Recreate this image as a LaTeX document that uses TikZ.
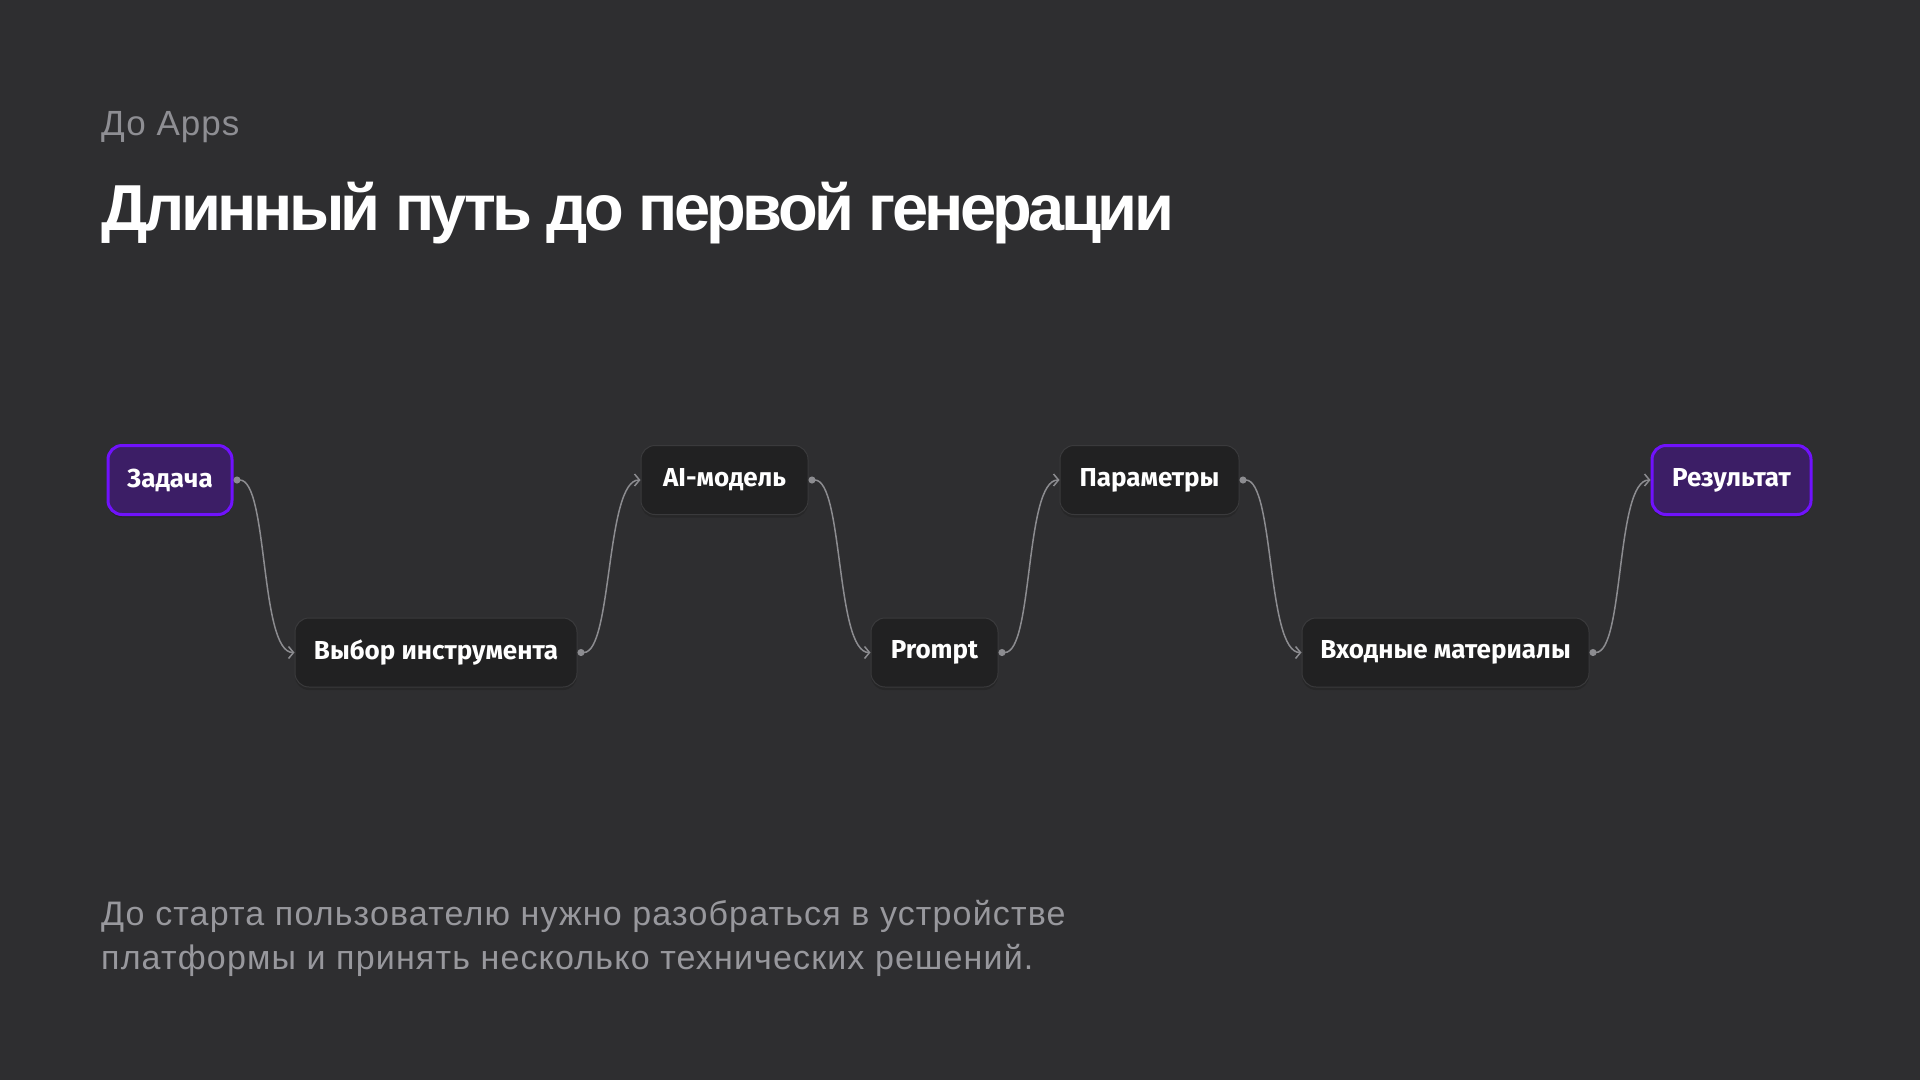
\documentclass[tikz,border=0pt]{standalone}
\usepackage{fontspec}
\setmainfont{Liberation Sans}[LetterSpace=3]
\newfontfamily\titlefont{Liberation Sans}[LetterSpace=-5.6]
\newfontfamily\notefont{Liberation Sans}[LetterSpace=3.4]
\newfontfamily\boxfont{Fira Sans}
\usepackage{xcolor}
\usetikzlibrary{arrows.meta,calc,positioning,shadows}

\definecolor{bgcol}{RGB}{46,46,48}
\definecolor{boxfill}{RGB}{33,33,34}
\definecolor{boxline}{RGB}{58,58,60}
\definecolor{endfill}{RGB}{60,30,102}
\definecolor{endline}{RGB}{112,18,252}
\definecolor{linkcol}{RGB}{140,140,144}
\definecolor{subcol}{RGB}{142,142,147}
\definecolor{notecol}{RGB}{152,152,157}

\begin{document}
\begin{tikzpicture}[
		x=1pt, y=-1pt,
		stepbox/.style={rectangle, rounded corners=14pt, draw=boxline, line width=1pt, fill=boxfill,
			minimum height=69pt, inner xsep=0pt, text=white,
			font=\boxfont\bfseries\fontsize{26}{30}\selectfont,
			drop shadow={shadow xshift=0pt, shadow yshift=-3pt, opacity=0.15, fill=black}},
		endbox/.style={stepbox, draw=endline, line width=3pt, fill=endfill},
		link/.style={draw=linkcol, line width=1.5pt, {Circle[length=7pt]}-{Straight Barb[length=5pt,width=12pt]}},
		plain/.style={anchor=base west, inner sep=0pt}
		]

		% fond
		\fill[bgcol] (0,0) rectangle (1920,1080);
		\useasboundingbox (0,0) rectangle (1920,1080);

		% --- Textes ---
		\node[plain, text=subcol, font=\fontsize{35}{40}\selectfont] (sub) at (101,135) {До Apps};
		\node[plain, text=white, font=\titlefont\bfseries\fontsize{65}{74}\selectfont] (title) at (101,230) {Длинный путь до первой генерации};
		% (base = ligne du bas)
		\node[plain, text=notecol, align=left, font=\notefont\fontsize{34}{44}\selectfont] (note) at (101,969)
			{До старта пользователю нужно разобраться в устройстве\\платформы и принять несколько технических решений.};

		% --- Etapes ---
		\node[endbox, minimum width=124pt] (zadacha) at (170,480) {Задача};
		\node[stepbox, minimum width=282pt] (vybor) at (436,652.5) {Выбор инструмента};
		\node[stepbox, minimum width=167pt] (model) at (724.5,480) {AI-модель};
		\node[stepbox, minimum width=127pt] (prompt) at (934.5,652.5) {Prompt};
		\node[stepbox, minimum width=179pt] (params) at (1149.5,480) {Параметры};
		\node[stepbox, minimum width=287pt] (vhod) at (1445.5,652.5) {Входные материалы};
		\node[endbox, minimum width=159pt] (result) at (1731.5,480) {Результат};

		% Liens
		\foreach \a/\b in {zadacha/vybor, vybor/model, model/prompt, prompt/params, params/vhod, vhod/result}
			\draw[link] (\a.east) .. controls +(35,0) and +(-35,0) .. (\b.west);

	\end{tikzpicture}
\end{document}
